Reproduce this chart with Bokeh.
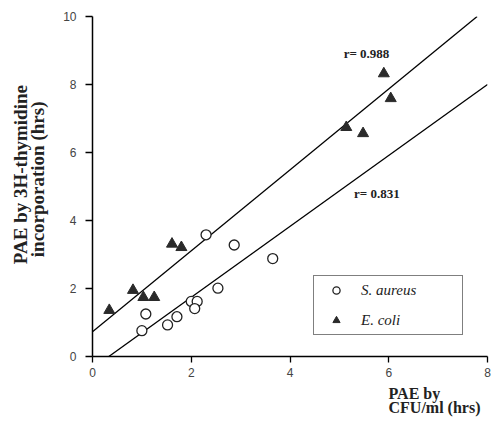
import numpy as np
from bokeh.plotting import figure
from bokeh.models import Label, Range1d, Legend, LegendItem, Title
from bokeh.embed import file_html
from bokeh.resources import INLINE

# S. aureus (open circles)
sa_x = [1.00, 1.08, 1.52, 1.71, 2.00, 2.12, 2.07, 2.54, 2.30, 2.87, 3.65]
sa_y = [0.76, 1.25, 0.93, 1.17, 1.62, 1.62, 1.41, 2.01, 3.58, 3.28, 2.88]
# E. coli (filled triangles)
ec_x = [0.34, 0.82, 1.03, 1.25, 1.61, 1.80, 5.90, 6.04, 5.14, 5.48]
ec_y = [1.36, 1.95, 1.74, 1.74, 3.31, 3.21, 8.32, 7.59, 6.74, 6.56]
# regression lines (slope, intercept)
ec_fit = [1.19, 0.73]
sa_fit = [1.043, -0.345]
r_labels = ["r= 0.988", "r= 0.831"]
x_ticks = [0, 2, 4, 6, 8]
y_ticks = [0, 2, 4, 6, 8, 10]

XMAX, YMAX = 8, 10
NB = "\u00a0"

p = figure(width=491, height=424, output_backend="svg", toolbar_location=None,
           x_range=Range1d(0, XMAX), y_range=Range1d(0, YMAX),
           min_border_left=92, min_border_right=4, min_border_top=16, min_border_bottom=68)
p.outline_line_color = None
p.xgrid.visible = False
p.ygrid.visible = False
p.background_fill_color = "white"

for ax in (p.xaxis[0], p.yaxis[0]):
    ax.axis_line_color = "black"
    ax.axis_line_width = 1.5
    ax.major_tick_line_color = "black"
    ax.major_tick_line_width = 1.3
    ax.major_tick_in = 0
    ax.minor_tick_line_color = None
    ax.major_label_text_font = "Liberation Sans"
    ax.major_label_text_font_size = "12px"
    ax.major_label_text_color = "#444444"
p.xaxis.ticker = x_ticks
p.yaxis.ticker = y_ticks
p.xaxis.major_tick_out = 6
p.yaxis.major_tick_out = 7
p.xaxis.major_label_standoff = 5
p.yaxis.major_label_standoff = 9

# y axis title (two lines)
p.yaxis.axis_label = NB * 7 + "PAE  by  3H-thymidine\n" + NB * 4 + "incorporation  (hrs)"
p.yaxis.axis_label_text_font = "Liberation Serif"
p.yaxis.axis_label_text_font_style = "bold"
p.yaxis.axis_label_text_font_size = "19px"
p.yaxis.axis_label_text_color = "#222222"
p.yaxis.axis_label_standoff = 12
p.yaxis.axis_label_text_line_height = 0.8

# x axis title at lower right (one two-line title)
t1 = Title(text="PAE by" + NB * 9 + "\nCFU/ml (hrs)", align="right", offset=7, standoff=11,
           vertical_align="top",
           text_font="Liberation Serif", text_font_style="bold",
           text_font_size="16px", text_color="#222222", text_line_height=0.85)
p.add_layout(t1, "below")

# regression lines
def line_pts(fit):
    m, b = fit
    x0 = max(0.0, -b / m)
    x1 = min(float(XMAX), (YMAX - b) / m)
    return [x0, x1], [m * x0 + b, m * x1 + b]

lx, ly = line_pts(ec_fit)
p.line(lx, ly, line_color="black", line_width=1.3)
lx, ly = line_pts(sa_fit)
p.line(lx, ly, line_color="black", line_width=1.3)

r_sa = p.scatter(sa_x, sa_y, marker="circle", size=10, fill_color="white",
                 line_color="#222222", line_width=1.3)
r_ec = p.scatter(ec_x, ec_y, marker="triangle", size=11, fill_color="#2a2a2a",
                 line_color="#2a2a2a", line_width=1)

legend = Legend(items=[LegendItem(label="S. aureus", renderers=[r_sa]),
                       LegendItem(label="E. coli", renderers=[r_ec])],
                location=(221, 21))
legend.label_text_font = "Liberation Serif"
legend.label_text_font_style = "italic"
legend.label_text_font_size = "15px"
legend.label_text_color = "#222222"
legend.border_line_color = "black"
legend.border_line_width = 1.5
legend.padding = 5
legend.spacing = 12
legend.glyph_width = 34
legend.glyph_height = 18
legend.label_height = 18
legend.label_standoff = 8
legend.label_width = 96
legend.margin = 0
legend.background_fill_color = "white"
p.add_layout(legend)

p.add_layout(Label(x=5.55, y=8.9, text=r_labels[0], text_font="Liberation Serif",
                   text_font_style="bold", text_font_size="13px", text_align="center",
                   text_baseline="middle", text_color="#222222"))
p.add_layout(Label(x=5.76, y=4.78, text=r_labels[1], text_font="Liberation Serif",
                   text_font_style="bold", text_font_size="13px", text_align="center",
                   text_baseline="middle", text_color="#222222"))

open("out.html", "w").write(file_html(p, INLINE))
